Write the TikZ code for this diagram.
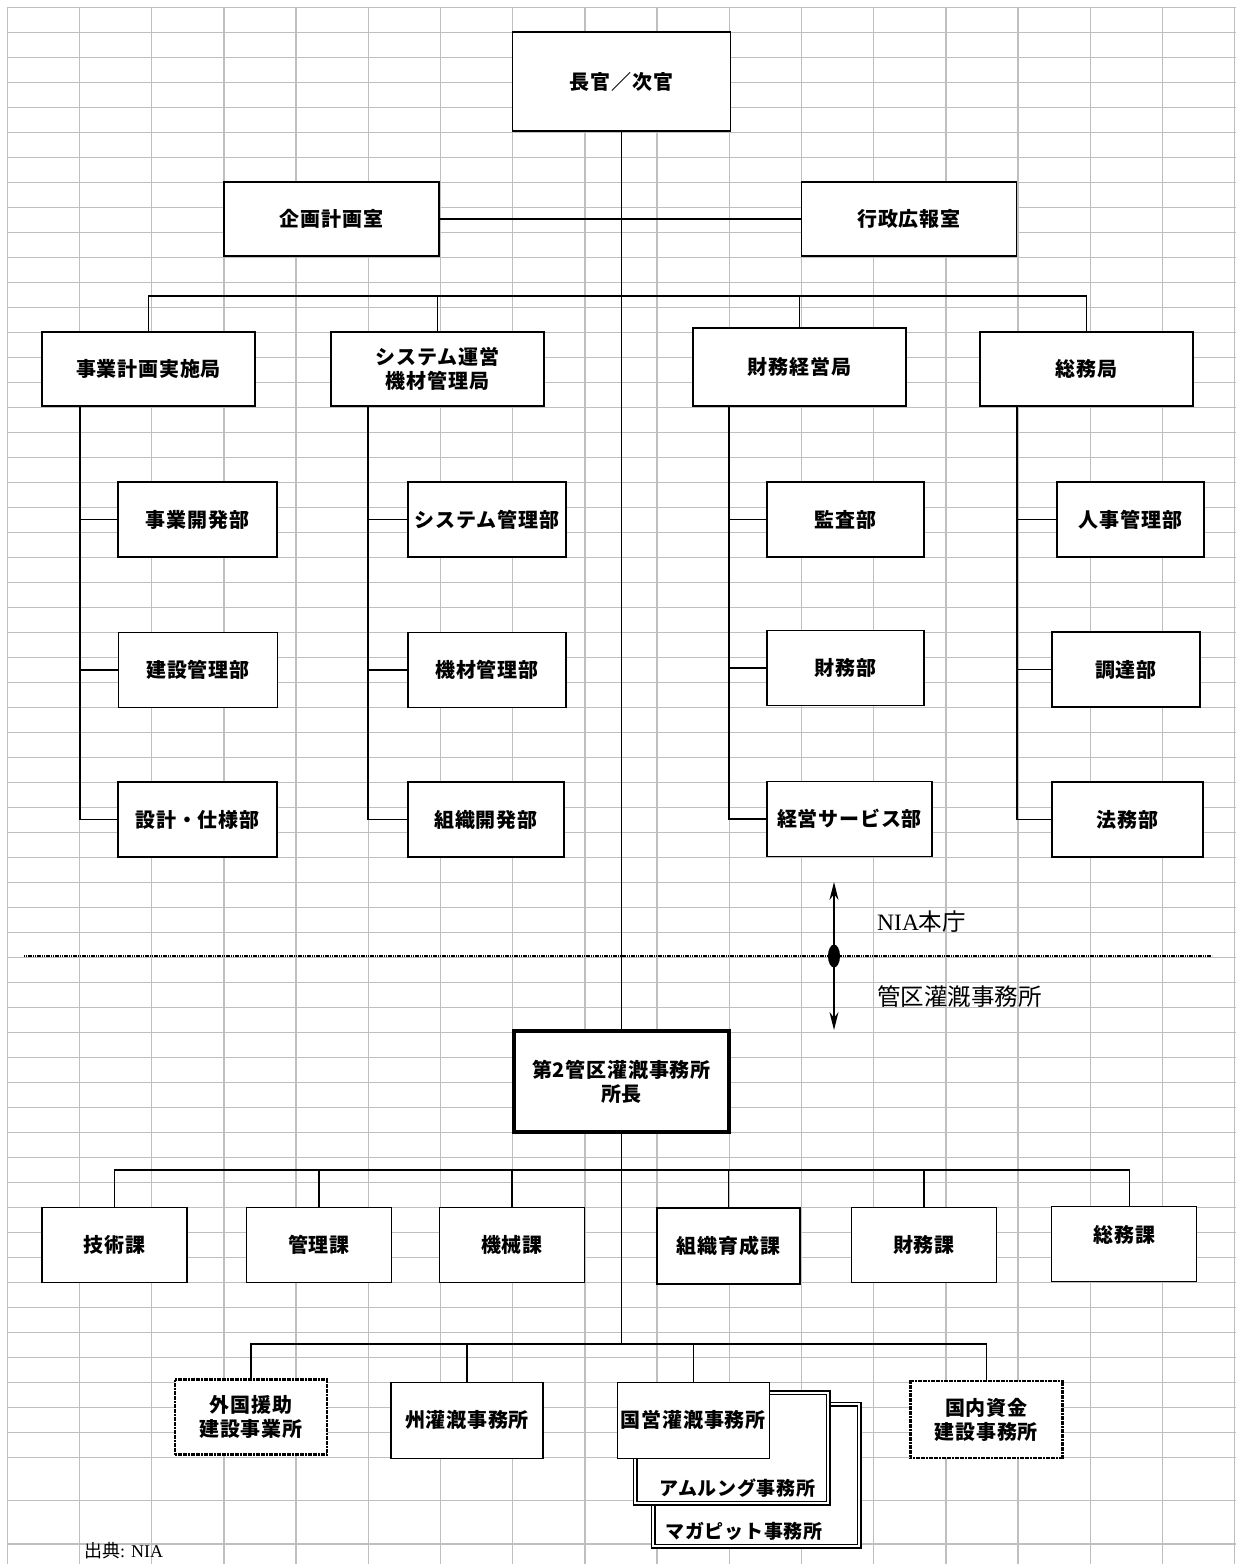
\documentclass[tikz,border=0pt]{standalone}
\usepackage{fontspec}
\setmainfont{Liberation Serif}
\newfontfamily\jp[LetterSpace=4]{Noto Sans CJK JP}
\newfontfamily\jpl{Noto Sans CJK JP}
\usetikzlibrary{arrows.meta}

\begin{document}
\begin{tikzpicture}[x=1pt,y=-1pt]
  \tikzstyle{grid line}=[draw,line width=1.5pt,gray!50]
  \tikzstyle{edge}=[draw,line width=1.2pt,black]
  \tikzstyle{box}=[rectangle,draw,fill=white,line width=1.3pt,align=center,inner sep=0pt,
    font=\jp\bfseries\fontsize{20}{24}\selectfont]
  \tikzstyle{office}=[box,minimum width=215,minimum height=74]
  \tikzstyle{bureau}=[box,minimum width=213,minimum height=74]
  \tikzstyle{dept}=[box,minimum width=159,minimum height=75]
  \tikzstyle{section}=[box,minimum width=145,minimum height=75]
  \tikzstyle{site}=[box,minimum width=152,minimum height=76]
  \tikzstyle{dotted site}=[site,line width=2.8pt,dash pattern=on 2pt off 0.6pt]
  \tikzstyle{twin box}=[box,double,line width=1.3pt,double distance=2.2pt]
  \tikzstyle{twin label}=[font=\jp\bfseries\fontsize{19}{23}\selectfont,inner sep=0pt]
  \tikzstyle{area label}=[anchor=west,inner sep=0pt,font=\fontsize{23.5}{28}\selectfont]
  \tikzstyle{both arrow}=[draw,line width=2pt,
    {Stealth[length=18pt,width=9pt]}-{Stealth[length=18pt,width=9pt]}]

  \useasboundingbox (0,0) rectangle (1236,1564);
  \fill[white] (0,0) rectangle (1236,1564);

  % sheet grid
  \foreach \j in {0,...,17}
    \draw[grid line] ({7.3+72.2*\j},7.3) -- ({7.3+72.2*\j},1564);
  \foreach \k in {0,...,58}
    \draw[grid line] (7.3,{7.3+25*\k}) -- (1236,{7.3+25*\k});
  \foreach \yy in {1500.7,1544}
    \draw[grid line] (7.3,\yy) -- (1236,\yy);

  % head office
  \node[box,minimum width=218,minimum height=99] (chief) at (621.5,81.5) {長官／次官};
  \node[office] (plan) at (331.5,219) {企画計画室};
  \node[office] (pr) at (909,219) {行政広報室};

  \node[bureau] (b1) at (148.5,369) {事業計画実施局};
  \node[bureau] (b2) at (437.5,369) {システム運営\\機材管理局};
  \node[bureau,minimum height=78] (b3) at (799.5,367) {財務経営局};
  \node[bureau] (b4) at (1086.5,369) {総務局};

  \node[dept] (d11) at (197.5,519.5) {事業開発部};
  \node[dept] (d12) at (198,670) {建設管理部};
  \node[dept] (d13) at (197.5,819.5) {設計・仕様部};
  \node[dept,minimum width=158] (d21) at (487,519.5) {システム管理部};
  \node[dept,minimum width=158] (d22) at (487,670) {機材管理部};
  \node[dept,minimum width=156] (d23) at (486,819.5) {組織開発部};
  \node[dept,minimum width=157] (d31) at (845.5,519.5) {監査部};
  \node[dept,minimum width=157] (d32) at (845.5,668) {財務部};
  \node[dept,minimum width=165] (d33) at (849.5,819) {経営サービス部};
  \node[dept,minimum width=147] (d41) at (1130.5,519.5) {人事管理部};
  \node[dept,minimum width=148] (d42) at (1126,669.5) {調達部};
  \node[dept,minimum width=151] (d43) at (1127.5,819.5) {法務部};

  % regional office
  \node[box,line width=4pt,minimum width=215,minimum height=101] (mgr) at (621.5,1081.5)
    {第2管区灌漑事務所\\所長};

  \node[section] (k1) at (114.5,1245) {技術課};
  \node[section] (k2) at (319,1245) {管理課};
  \node[section] (k3) at (512,1245) {機械課};
  \node[section,minimum width=143,minimum height=76] (k4) at (728.5,1246) {組織育成課};
  \node[section] (k5) at (924,1245) {財務課};
  \node[section,text depth=20pt] (k6) at (1124.3,1244.2) {総務課};

  \node[twin box,minimum width=206,minimum height=142] (mag) at (756.1,1475.1) {};
  \node[twin label] (magt) at (744,1531.7) {マガピット事務所};
  \node[twin box,minimum width=193,minimum height=110.5] (amu) at (731.7,1448) {};
  \node[twin label] (amut) at (737.5,1488.3) {アムルング事務所};

  \node[dotted site,minimum height=75] (o1) at (251,1417) {外国援助\\建設事業所};
  \node[site] (o2) at (467,1420.3) {州灌漑事務所};
  \node[site] (o3) at (693.3,1420.3) {国営灌漑事務所};
  \node[dotted site,minimum height=77] (o4) at (986.3,1419.5) {国内資金\\建設事務所};

  % connectors
  \coordinate (bus1) at (621.5,296);
  \coordinate (bus2) at (621.5,1170);
  \coordinate (bus3) at (621.5,1344);
  \coordinate (k6 top) at (1129.3,1206.7);

  \draw[edge] (chief.south) -- (mgr.north);
  \draw[edge] (mgr.south) -- (bus3);
  \draw[edge] (plan) -- (pr);

  \draw[edge] (b1.north) -- (b1.north |- bus1) -- (b4.north |- bus1) -- (b4.north);
  \draw[edge] (b2.north) -- (b2.north |- bus1);
  \draw[edge] (b3.north) -- (b3.north |- bus1);

  \coordinate (s1) at (80,406);
  \coordinate (s2) at (368,406);
  \coordinate (s3) at (729,406);
  \coordinate (s4) at (1017,406);
  \draw[edge] (s1) |- (d13.west);
  \draw[edge] (s1 |- d11.west) -- (d11.west);
  \draw[edge] (s1 |- d12.west) -- (d12.west);
  \draw[edge] (s2) |- (d23.west);
  \draw[edge] (s2 |- d21.west) -- (d21.west);
  \draw[edge] (s2 |- d22.west) -- (d22.west);
  \draw[edge] (s3) |- (d33.west);
  \draw[edge] (s3 |- d31.west) -- (d31.west);
  \draw[edge] (s3 |- d32.west) -- (d32.west);
  \draw[edge] (s4) |- (d43.west);
  \draw[edge] (s4 |- d41.west) -- (d41.west);
  \draw[edge] (s4 |- d42.west) -- (d42.west);

  \draw[edge] (k1.north) -- (k1.north |- bus2) -- (k6 top |- bus2) -- (k6 top);
  \draw[edge] (k2.north) -- (k2.north |- bus2);
  \draw[edge] (k3.north) -- (k3.north |- bus2);
  \draw[edge] (k4.north) -- (k4.north |- bus2);
  \draw[edge] (k5.north) -- (k5.north |- bus2);

  \draw[edge] (o1.north) -- (o1.north |- bus3) -- (o4.north |- bus3) -- (o4.north);
  \draw[edge] (o2.north) -- (o2.north |- bus3);
  \draw[edge] (o3.north) -- (o3.north |- bus3);

  % boundary between head office and regional office
  \coordinate (cut w) at (24,956);
  \coordinate (cut e) at (1212,956);
  \draw[line width=2.4pt,dash pattern=on 1.2pt off 0.6pt] (cut w) -- (cut e);
  \coordinate (arr top) at (834,882);
  \coordinate (arr bot) at (834,1030);
  \draw[both arrow] (arr top) -- (arr bot);
  \fill (834,956) ellipse [x radius=6, y radius=11.5];
  \node[area label] (hq) at (877,922) {NIA{\jpl 本庁}};
  \node[area label] (reg) at (877,997) {\jpl 管区灌漑事務所};

  \node[anchor=west,inner sep=0pt,font=\fontsize{18}{21}\selectfont] (src) at (84,1551)
    {{\jpl 出典}: NIA};
\end{tikzpicture}
\end{document}
